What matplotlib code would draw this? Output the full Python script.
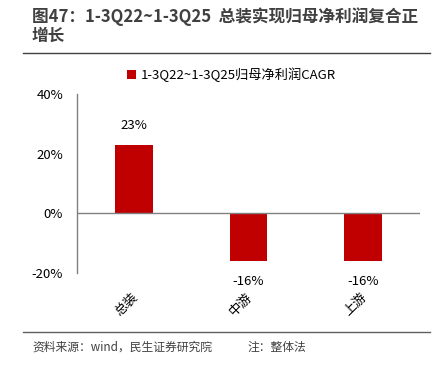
import matplotlib
matplotlib.use("Agg")
import matplotlib.pyplot as plt
from matplotlib.lines import Line2D
from matplotlib.patches import Patch
from matplotlib.ticker import FuncFormatter
from matplotlib.transforms import ScaledTranslation

plt.rcParams['font.family'] = ['Noto Sans CJK SC', 'DejaVu Sans']

categories = ['总装', '中游', '上游']
values = [23, -16, -16]
series_name = '1-3Q22~1-3Q25归母净利润CAGR'
title = '图47：1-3Q22~1-3Q25  总装实现归母净利润复合正\n增长'
source_left = '资料来源：wind，民生证券研究院'
source_right = '注：整体法'
yticks = [-20, 0, 20, 40]

red = '#C00000'
grey = '#808080'

fig = plt.figure(figsize=(4.45, 3.65), dpi=100)
ax = fig.add_axes([0.173, 0.252, 0.771, 0.490])

x = range(len(categories))
bars = ax.bar(x, values, width=0.33, color=red, zorder=2)
ax.set_xlim(-0.5, len(categories) - 0.5)
ax.set_ylim(-20, 40)
ax.set_yticks(yticks)
ax.yaxis.set_major_formatter(FuncFormatter(lambda v, p: f'{v:.0f}%'))
ax.tick_params(axis='y', length=0, labelsize=9.5, colors='#000000', pad=10)
ax.tick_params(axis='x', length=0, pad=0)
ax.set_xticks(list(x))
ax.set_xticklabels(categories, rotation=45, fontsize=9.5, ha='right', va='top',
                   rotation_mode='anchor')
off = ScaledTranslation(-3 / 100, -17 / 100, fig.dpi_scale_trans)
for lbl in ax.get_xticklabels():
    lbl.set_transform(lbl.get_transform() + off)

for s in ['top', 'right', 'bottom']:
    ax.spines[s].set_visible(False)
ax.spines['left'].set_color(grey)
ax.spines['left'].set_linewidth(1.0)
ax.axhline(0, color=grey, linewidth=1.0, zorder=3)

for xi, v in zip(x, values):
    if v >= 0:
        ax.annotate(f'{v}%', (xi, v), xytext=(0, 9), textcoords='offset points',
                    ha='center', va='bottom', fontsize=9.5)
    else:
        ax.annotate(f'{v}%', (xi, v), xytext=(0, -10), textcoords='offset points',
                    ha='center', va='top', fontsize=9.5)

handles = [Patch(facecolor=red, edgecolor='none')]
fig.legend(handles, [series_name], loc='center', bbox_to_anchor=(0.52, 1 - 75 / 365),
           frameon=False, fontsize=9.5, handlelength=0.7, handleheight=0.7,
           handletextpad=0.4)

fig.text(32 / 445, 1 - 26 / 365, title, fontsize=12, fontweight='bold',
         color='#404040', ha='left', va='center', linespacing=1.05)
fig.add_artist(Line2D([23 / 445, 430 / 445], [1 - 53 / 365, 1 - 53 / 365],
                      color='#404040', linewidth=1.0))
fig.add_artist(Line2D([23 / 445, 430 / 445], [1 - 332 / 365, 1 - 332 / 365],
                      color='#606060', linewidth=1.0))
fig.text(32 / 445, 1 - 347 / 365, source_left, fontsize=8.5, color='#404040',
         ha='left', va='center')
fig.text(247 / 445, 1 - 347 / 365, source_right, fontsize=8.5, color='#404040',
         ha='left', va='center')

fig.savefig('out.png', dpi=100)
